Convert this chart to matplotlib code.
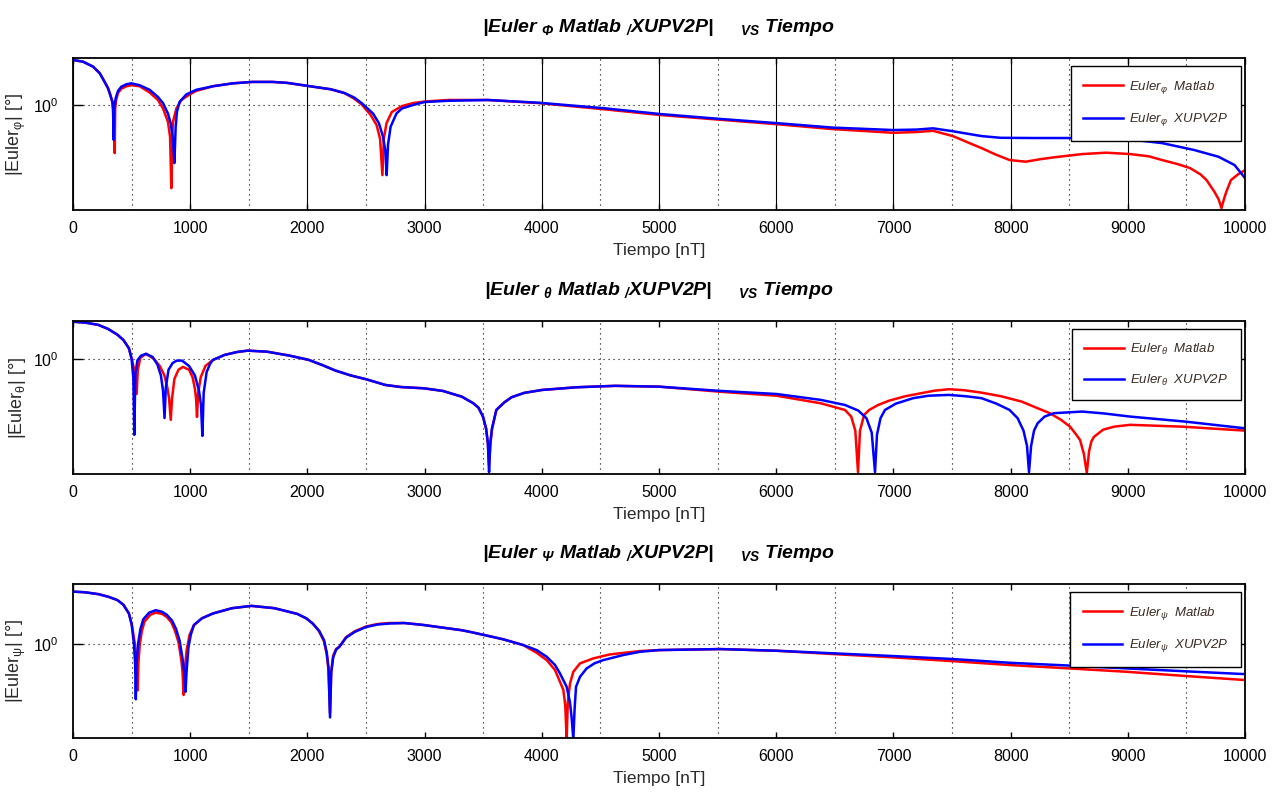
import matplotlib
matplotlib.use('Agg')
import matplotlib.pyplot as plt
from matplotlib import font_manager
from matplotlib.ticker import MultipleLocator, FixedLocator, FixedFormatter, NullLocator

# --- data (|Euler| error in degrees vs tiempo) ---
phi_matlab_x = [0, 85, 171, 228, 270, 299, 319, 336, 348, 356, 360, 368, 384, 412, 455, 498, 569, 654, 725, 768,
                810, 828, 839, 847, 853, 882, 924, 995, 1052, 1194, 1365, 1532, 1700, 1826, 2022, 2200, 2316, 2400,
                2463, 2540, 2590, 2620, 2640, 2652, 2675, 2720, 2807, 2900, 3000, 3199, 3540, 3980, 4520, 5010, 5500,
                5990, 6480, 7000, 7200, 7338, 7508, 7630, 7752, 7880, 7991, 8129, 8250, 8369, 8610, 8815, 9020, 9180,
                9292, 9420, 9531, 9620, 9672, 9740, 9775, 9799, 9820, 9840, 9880, 9940, 10000]
phi_matlab_y = [1.98, 1.93, 1.79, 1.62, 1.42, 1.29, 1.16, 1.05, 0.90, 0.483, 0.95, 1.08, 1.20, 1.28, 1.33, 1.35, 1.33,
                1.21, 1.08, 0.95, 0.776, 0.62, 0.284, 0.62, 0.776, 0.95, 1.08, 1.175, 1.24, 1.33, 1.39, 1.42, 1.42,
                1.40, 1.33, 1.27, 1.20, 1.10, 1.01, 0.86, 0.74, 0.60, 0.346, 0.60, 0.76, 0.90, 0.985, 1.03, 1.055,
                1.08, 1.08, 1.03, 0.94, 0.86, 0.803, 0.750, 0.695, 0.657, 0.665, 0.677, 0.625, 0.57, 0.521, 0.47,
                0.435, 0.424, 0.44, 0.453, 0.476, 0.486, 0.476, 0.46, 0.435, 0.41, 0.385, 0.35, 0.321, 0.268, 0.24,
                0.210, 0.24, 0.268, 0.321, 0.35, 0.373]
phi_xupv_x = [0, 85, 171, 228, 270, 299, 319, 336, 342, 347, 352, 364, 384, 412, 455, 498, 569, 654, 725, 768, 810,
              835, 852, 865, 876, 887, 910, 967, 1052, 1194, 1365, 1532, 1700, 1826, 2022, 2200, 2316, 2400, 2463,
              2560, 2610, 2645, 2665, 2676, 2688, 2710, 2760, 2807, 2900, 3000, 3199, 3540, 3980, 4520, 5010, 5500,
              5990, 6480, 7000, 7200, 7338, 7500, 7752, 7915, 8200, 8600, 8952, 9292, 9567, 9774, 9911, 10000]
phi_xupv_y = [1.98, 1.93, 1.79, 1.62, 1.42, 1.29, 1.16, 1.05, 0.90, 0.59, 0.95, 1.11, 1.24, 1.32, 1.37, 1.39, 1.35,
              1.26, 1.13, 1.03, 0.88, 0.75, 0.60, 0.415, 0.72, 0.904, 1.05, 1.175, 1.26, 1.33, 1.39, 1.42, 1.42, 1.40,
              1.33, 1.27, 1.20, 1.12, 1.03, 0.88, 0.76, 0.62, 0.50, 0.346, 0.55, 0.72, 0.88, 0.95, 1.0, 1.047, 1.067,
              1.08, 1.035, 0.955, 0.873, 0.813, 0.762, 0.711, 0.685, 0.690, 0.703, 0.674, 0.625, 0.609, 0.607, 0.607,
              0.602, 0.562, 0.506, 0.457, 0.403, 0.331]

theta_matlab_x = [0, 100, 216, 300, 379, 430, 477, 505, 530, 543, 553, 575, 623, 690, 740, 780, 805, 820, 834, 845,
                  865, 900, 938, 990, 1020, 1040, 1050, 1058, 1068, 1090, 1130, 1194, 1293, 1400, 1489, 1653, 1848,
                  2013, 2130, 2240, 2370, 2500, 2665, 2800, 2992, 3155, 3317, 3416, 3460, 3498, 3525, 3540, 3550,
                  3562, 3575, 3612, 3680, 3742, 3850, 4002, 4297, 4625, 5000, 5524, 6003, 6380, 6587, 6640, 6675,
                  6698, 6715, 6750, 6793, 6870, 6964, 7100, 7236, 7350, 7474, 7600, 7752, 7920, 8095, 8220, 8335,
                  8430, 8507, 8560, 8592, 8625, 8650, 8670, 8690, 8712, 8790, 8884, 9020, 9463, 10000]
theta_matlab_y = [1.75, 1.73, 1.67, 1.57, 1.44, 1.33, 1.175, 0.98, 0.80, 0.59, 0.85, 1.02, 1.08, 1.0, 0.90, 0.78,
                  0.65, 0.55, 0.40, 0.55, 0.74, 0.85, 0.887, 0.85, 0.76, 0.64, 0.55, 0.418, 0.60, 0.76, 0.90, 0.985,
                  1.062, 1.11, 1.133, 1.116, 1.051, 0.985, 0.91, 0.839, 0.78, 0.737, 0.676, 0.655, 0.643, 0.618,
                  0.567, 0.513, 0.48, 0.420, 0.35, 0.28, 0.20, 0.28, 0.35, 0.464, 0.52, 0.562, 0.60, 0.627, 0.653,
                  0.667, 0.659, 0.610, 0.575, 0.513, 0.464, 0.42, 0.34, 0.182, 0.34, 0.43, 0.464, 0.50, 0.534, 0.57,
                  0.597, 0.62, 0.634, 0.625, 0.602, 0.57, 0.526, 0.48, 0.442, 0.40, 0.361, 0.32, 0.296, 0.24, 0.180,
                  0.25, 0.29, 0.310, 0.345, 0.361, 0.371, 0.361, 0.340]
theta_xupv_x = [0, 100, 216, 300, 379, 430, 477, 500, 515, 523, 532, 550, 580, 623, 680, 720, 750, 768, 781, 792,
                815, 850, 885, 930, 990, 1040, 1075, 1092, 1104, 1115, 1140, 1170, 1194, 1293, 1400, 1489, 1653, 1848,
                2013, 2130, 2240, 2370, 2500, 2665, 2800, 2992, 3155, 3317, 3416, 3460, 3498, 3525, 3540, 3550, 3560,
                3575, 3612, 3680, 3742, 3850, 4002, 4297, 4625, 5000, 5524, 6003, 6380, 6587, 6700, 6770, 6815, 6843,
                6860, 6890, 6928, 7020, 7168, 7300, 7474, 7620, 7752, 7880, 7991, 8060, 8110, 8140, 8157, 8175, 8200,
                8231, 8290, 8369, 8610, 8800, 9020, 9497, 10000]
theta_xupv_y = [1.75, 1.73, 1.67, 1.57, 1.44, 1.33, 1.175, 1.0, 0.75, 0.319, 0.80, 0.98, 1.05, 1.08, 1.03, 0.92, 0.78,
                0.62, 0.411, 0.65, 0.85, 0.94, 0.975, 0.975, 0.90, 0.78, 0.62, 0.50, 0.314, 0.60, 0.82, 0.93, 0.985,
                1.062, 1.11, 1.133, 1.116, 1.051, 0.985, 0.91, 0.839, 0.78, 0.737, 0.676, 0.655, 0.643, 0.618, 0.567,
                0.513, 0.48, 0.420, 0.35, 0.28, 0.182, 0.28, 0.35, 0.464, 0.52, 0.562, 0.60, 0.627, 0.653, 0.667,
                0.659, 0.618, 0.590, 0.540, 0.500, 0.46, 0.41, 0.33, 0.182, 0.32, 0.41, 0.464, 0.51, 0.554, 0.575,
                0.582, 0.57, 0.554, 0.51, 0.464, 0.41, 0.34, 0.27, 0.182, 0.27, 0.34, 0.380, 0.42, 0.442, 0.453, 0.44,
                0.420, 0.389, 0.352]

psi_matlab_x = [0, 100, 216, 300, 379, 430, 477, 505, 528, 542, 552, 558, 570, 588, 610, 660, 706, 760, 800, 840,
                870, 900, 925, 935, 944, 953, 970, 995, 1032, 1100, 1194, 1357, 1522, 1718, 1914, 1990, 2045, 2100,
                2142, 2165, 2180, 2193, 2203, 2220, 2245, 2273, 2330, 2404, 2500, 2599, 2700, 2827, 2992, 3150, 3317,
                3387, 3520, 3672, 3842, 3956, 4042, 4113, 4155, 4184, 4200, 4212, 4222, 4241, 4269, 4326, 4439, 4582,
                4838, 5000, 5524, 6003, 6500, 6997, 7500, 7991, 8500, 8986, 9500, 10000]
psi_matlab_y = [2.19, 2.17, 2.11, 2.03, 1.93, 1.80, 1.58, 1.30, 1.0, 0.75, 0.50, 0.75, 1.0, 1.22, 1.40, 1.55, 1.60,
                1.57, 1.50, 1.38, 1.22, 1.03, 0.78, 0.65, 0.467, 0.68, 0.92, 1.15, 1.33, 1.47, 1.58, 1.71, 1.77, 1.71,
                1.57, 1.47, 1.36, 1.21, 1.04, 0.86, 0.68, 0.355, 0.66, 0.84, 0.93, 0.961, 1.11, 1.21, 1.30, 1.35, 1.37,
                1.37, 1.33, 1.28, 1.23, 1.20, 1.14, 1.073, 0.985, 0.878, 0.787, 0.678, 0.569, 0.503, 0.40, 0.24, 0.42,
                0.556, 0.661, 0.749, 0.807, 0.857, 0.901, 0.914, 0.928, 0.905, 0.86, 0.820, 0.775, 0.731, 0.695,
                0.661, 0.62, 0.584]
psi_xupv_x = [0, 100, 216, 300, 379, 430, 477, 500, 520, 530, 536, 542, 555, 575, 600, 650, 706, 760, 800, 845, 880,
              910, 935, 950, 960, 970, 985, 1005, 1032, 1100, 1194, 1357, 1522, 1718, 1914, 1990, 2045, 2100, 2142,
              2165, 2180, 2193, 2203, 2220, 2245, 2273, 2330, 2404, 2500, 2599, 2700, 2827, 2992, 3150, 3317, 3387,
              3520, 3672, 3842, 3956, 4042, 4113, 4155, 4212, 4240, 4255, 4269, 4280, 4292, 4326, 4383, 4450, 4525,
              4696, 4838, 5000, 5524, 6003, 6500, 6997, 7500, 7991, 8500, 8986, 9500, 10000]
psi_xupv_y = [2.19, 2.17, 2.11, 2.03, 1.93, 1.80, 1.58, 1.35, 1.0, 0.75, 0.438, 0.75, 1.0, 1.25, 1.45, 1.60, 1.66,
              1.62, 1.55, 1.42, 1.25, 1.05, 0.80, 0.65, 0.490, 0.68, 0.95, 1.15, 1.33, 1.47, 1.58, 1.71, 1.77, 1.71,
              1.57, 1.47, 1.36, 1.22, 1.06, 0.88, 0.70, 0.334, 0.65, 0.82, 0.92, 0.961, 1.10, 1.20, 1.29, 1.34, 1.36,
              1.37, 1.33, 1.28, 1.23, 1.20, 1.14, 1.073, 0.985, 0.914, 0.827, 0.731, 0.645, 0.528, 0.42, 0.33, 0.24,
              0.38, 0.528, 0.613, 0.695, 0.75, 0.787, 0.849, 0.891, 0.914, 0.928, 0.905, 0.87, 0.836, 0.80, 0.756,
              0.725, 0.695, 0.665, 0.638]

angles = ['Φ', 'θ', 'Ψ']
angles_small = ['φ', 'θ', 'ψ']
ylims = [(0.204, 2.04), (0.177, 1.77), (0.2455, 2.455)]

names = {f.name for f in font_manager.fontManager.ttflist}
base = 'Liberation Sans Narrow' if 'Liberation Sans Narrow' in names else 'Liberation Sans'
plt.rcParams['font.family'] = [base, 'DejaVu Sans']
plt.rcParams['mathtext.default'] = 'regular'

fig = plt.figure(figsize=(12.77, 7.98), dpi=100)

W, H = 1277, 798
# axes boxes in pixels: left, top, right, bottom
boxes = [(73, 58, 1245, 210), (73, 321, 1245, 474), (73, 584, 1245, 738)]
series = [(phi_matlab_x, phi_matlab_y, phi_xupv_x, phi_xupv_y),
          (theta_matlab_x, theta_matlab_y, theta_xupv_x, theta_xupv_y),
          (psi_matlab_x, psi_matlab_y, psi_xupv_x, psi_xupv_y)]

dotted = (0, (1, 3.5))
txt_col = '#2a2a2a'

for i in range(3):
    l, t, r, b = boxes[i]
    ax = fig.add_axes([l / W, 1 - b / H, (r - l) / W, (b - t) / H])
    mx, my, xx, xy = series[i]
    ax.plot(mx, my, color='red', lw=1.8, label='Euler$_{%s}$  Matlab' % angles_small[i])
    ax.plot(xx, xy, color='blue', lw=1.8, label='Euler$_{%s}$  XUPV2P' % angles_small[i])

    ax.set_yscale('log')
    ax.set_xlim(0, 10000)
    ax.set_ylim(*ylims[i])

    ax.xaxis.set_major_locator(MultipleLocator(1000))
    ax.xaxis.set_minor_locator(MultipleLocator(500))
    ax.yaxis.set_major_locator(FixedLocator([1]))
    ax.yaxis.set_major_formatter(FixedFormatter([r'$10^{0}$']))
    ax.yaxis.set_minor_locator(NullLocator())

    ax.tick_params(which='both', direction='in', top=True, right=True, colors='black', labelsize=11.5)
    ax.tick_params(axis='x', which='major', length=4, width=1, pad=8)
    ax.tick_params(axis='x', which='minor', length=0)
    ax.tick_params(axis='y', which='major', length=7, width=1, pad=10)
    for s in ax.spines.values():
        s.set_linewidth(1.3)

    ax.grid(True, axis='x', which='minor', color='black', ls=dotted, lw=0.8)
    ax.grid(True, axis='y', which='major', color='black', ls=dotted, lw=0.8)
    if i == 0:
        ax.grid(True, axis='x', which='major', color='black', ls='-', lw=0.8)

    ax.set_xlabel('Tiempo [nT]', fontsize=12.5, color=txt_col, labelpad=5)
    ax.set_ylabel('|Euler$_{%s}$| [°]' % angles_small[i], fontsize=13, color=txt_col)
    ax.yaxis.set_label_coords(-0.038, 0.5)

    ax.text(0.5, 1 + 26 / (b - t),
            '|Euler $_{%s}$ Matlab $_{/}$XUPV2P|     $_{VS}$ Tiempo' % angles[i],
            transform=ax.transAxes, ha='center', va='baseline',
            fontsize=14, fontweight='bold', fontstyle='italic')

    leg = ax.legend(loc='upper right', bbox_to_anchor=(1 - 4 / (r - l), 1 - 8 / (b - t)),
                    borderaxespad=0, fancybox=False, framealpha=1, edgecolor='black',
                    prop={'style': 'italic', 'size': 9.5}, handlelength=3.0, handletextpad=0.5,
                    labelspacing=1.2, borderpad=0.95)
    leg.get_frame().set_linewidth(1.0)
    for tx in leg.get_texts():
        tx.set_color('#3a2c24')

fig.savefig('out.png', dpi=100)
